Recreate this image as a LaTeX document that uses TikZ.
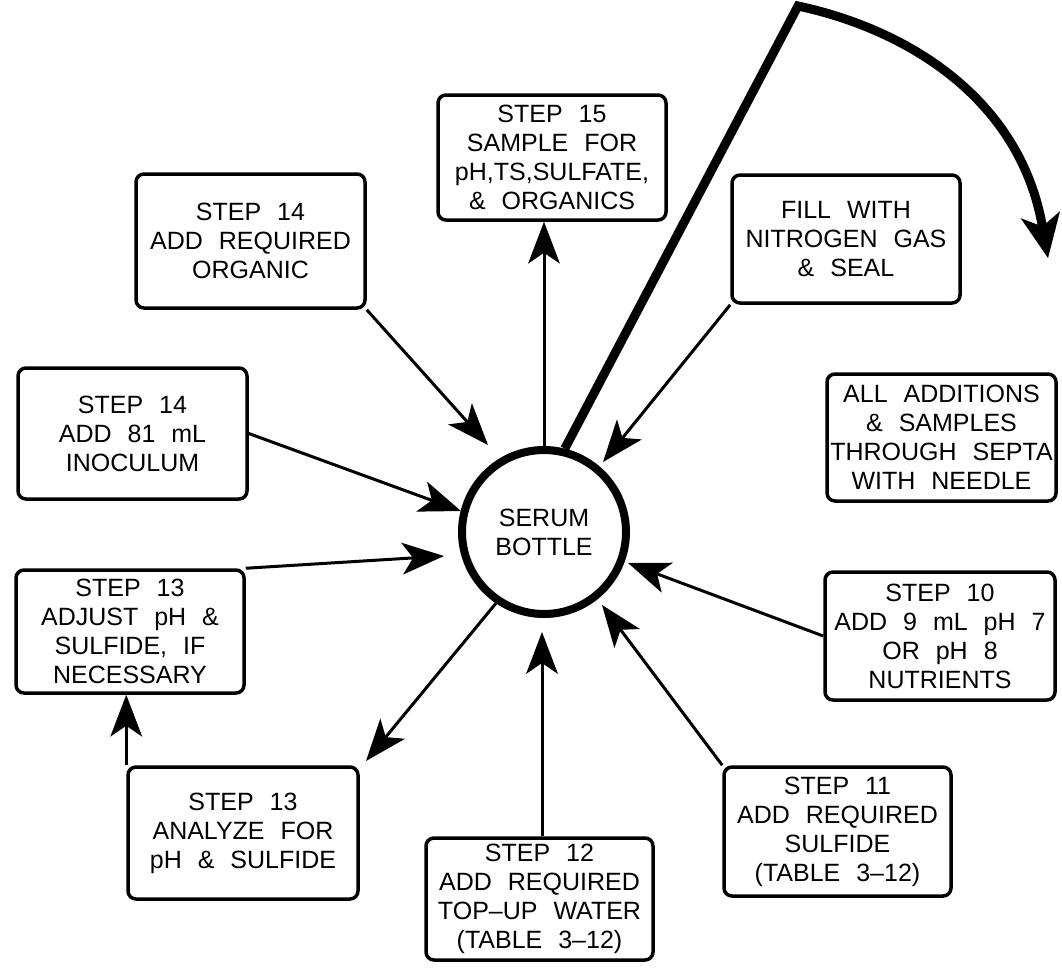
\documentclass[tikz,border=0pt]{standalone}
\usepackage{fontspec}
\setmainfont[WordSpace=2.3]{Liberation Sans}
\usetikzlibrary{arrows.meta}
\tikzset{
  lbl/.style={font=\fontsize{25}{29}\selectfont, align=center},
  stepbox/.style={lbl, draw, line width=3.5pt, rounded corners=8pt, inner sep=2pt},
  conn/.style={line width=3pt, -{Stealth[length=42pt,width=32pt,inset=11pt,line width=0pt]}},
  bigconn/.style={line width=9pt, line join=miter, -{Stealth[length=44pt,width=40pt,inset=12pt,line width=0pt]}}
}
\begin{document}
\begin{tikzpicture}[x=1pt, y=-1pt]
\useasboundingbox (0,0) rectangle (1062,972);
% central bottle
\node[lbl, circle, draw, line width=8pt, minimum size=164pt, inner sep=0pt] (S) at (544,532) {SERUM\\BOTTLE};
% boxes
\node[stepbox, minimum width=229pt, minimum height=134pt] (A) at (250.5,241) {STEP 14\\ADD REQUIRED\\ORGANIC};
\node[stepbox, minimum width=228pt, minimum height=125pt] (B) at (552,157.5) {STEP 15\\SAMPLE FOR\\pH,TS,SULFATE,\\\& ORGANICS};
\node[stepbox, minimum width=228pt, minimum height=128pt] (C) at (846,239) {FILL WITH\\NITROGEN GAS\\\& SEAL};
\node[stepbox, minimum width=229pt, minimum height=131pt] (D) at (132.5,433.5) {STEP 14\\ADD 81 mL\\INOCULUM};
\node[stepbox, minimum width=228pt, minimum height=123pt] (E) at (130,631.5) {STEP 13\\ADJUST pH \&\\SULFIDE, IF\\NECESSARY};
\node[stepbox, minimum width=230pt, minimum height=132pt] (F) at (243,833) {STEP 13\\ANALYZE FOR\\pH \& SULFIDE};
\node[stepbox, minimum width=227pt, minimum height=122pt] (G) at (539.5,899) {STEP 12\\ADD REQUIRED\\TOP–UP WATER\\(TABLE 3–12)};
\node[stepbox, minimum width=227pt, minimum height=129pt] (H) at (837.5,831.5) {STEP 11\\ADD REQUIRED\\SULFIDE\\(TABLE 3–12)};
\node[stepbox, minimum width=230pt, minimum height=128pt] (I) at (940,636) {STEP 10\\ADD 9 mL pH 7\\OR pH 8\\NUTRIENTS};
\node[stepbox, minimum width=229pt, minimum height=127pt] (J) at (941.5,437.5) {ALL ADDITIONS\\\& SAMPLES\\THROUGH SEPTA\\WITH NEEDLE};
% arrow tip points near the bottle
\coordinate (t1) at (488,445);
\coordinate (t2) at (461,511);
\coordinate (t3) at (444,556);
\coordinate (t4) at (366,761);
\coordinate (t6) at (542,632);
\coordinate (t7) at (602,605);
\coordinate (t8) at (628,563);
\coordinate (t9) at (603,462);
\coordinate (apex) at (798,6);
\coordinate (bigtip) at (1048,258);
% connectors
\draw[conn] (A.south east) -- (t1);
\draw[conn] (D.east) -- (t2);
\draw[conn] (E.north east) -- (t3);
\draw[conn] (S.236) -- (t4);
\draw[conn] (F.north west) -- (F.north west |- E.south);
\draw[conn] (G.north -| t6) -- (t6);
\draw[conn] (H.north west) -- (t7);
\draw[conn] (I.west) -- (t8);
\draw[conn] (C.south west) -- (t9);
\draw[conn] (S.north) -- (S.north |- B.south);
\draw[bigconn] (S.76) -- (apex) .. controls (910,30) and (1020,100) .. (bigtip);
\end{tikzpicture}
\end{document}
